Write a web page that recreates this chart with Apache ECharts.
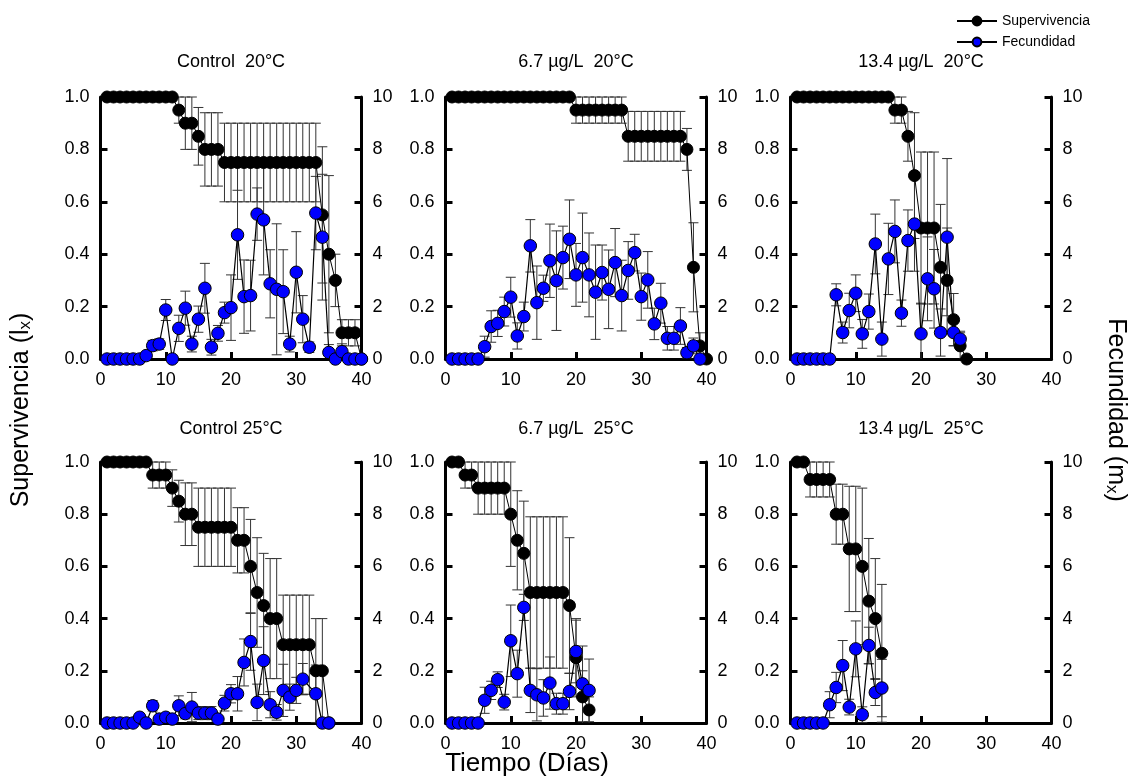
<!DOCTYPE html>
<html><head><meta charset="utf-8">
<script src="https://cdn.jsdelivr.net/npm/echarts@6/dist/echarts.min.js"></script>
<style>html,body{margin:0;padding:0;background:#fff}#c{width:1134px;height:782px}</style>
</head><body><div id="c"></div>
<script>
// ---------- data (day index starts at 1) ----------
const panelTitles = ['Control  20°C', '6.7 µg/L  20°C', '13.4 µg/L  20°C', 'Control 25°C', '6.7 µg/L  25°C', '13.4 µg/L  25°C'];
const xTicks = [0, 10, 20, 30, 40];

const survC20 = [1,1,1,1,1,1,1,1,1,1,1,0.95,0.9,0.9,0.85,0.8,0.8,0.8,0.75,0.75,0.75,0.75,0.75,0.75,0.75,0.75,0.75,0.75,0.75,0.75,0.75,0.75,0.75,0.55,0.4,0.3,0.1,0.1,0.1,0];
const survErrC20 = [0,0,0,0,0,0,0,0,0,0,0,0.05,0.1,0.1,0.11,0.14,0.14,0.14,0.15,0.15,0.15,0.15,0.15,0.15,0.15,0.15,0.15,0.15,0.15,0.15,0.15,0.15,0.15,0.26,0.3,0.1,0.05,0.05,0.05,0];
const fecC20 = [0,0,0,0,0,0,0.13,0.51,0.57,1.87,0,1.17,1.94,0.57,1.52,2.70,0.45,0.98,1.77,1.96,4.74,2.38,2.42,5.53,5.31,2.87,2.66,2.57,0.57,3.31,1.52,0.45,5.57,4.65,0.25,0,0.28,0,0,0];
const fecErrC20 = [0,0,0,0,0,0,0,0.2,0.2,0.4,0,0.5,0.65,0.3,0.5,0.95,0.3,0.3,0.4,1.25,1.7,1.4,1.35,1.0,2.1,1.3,2.5,1.6,0.3,1.55,0.9,0.2,1.4,2.4,0.3,0,0.3,0,0,0];

const surv67_20 = [1,1,1,1,1,1,1,1,1,1,1,1,1,1,1,1,1,1,1,0.95,0.95,0.95,0.95,0.95,0.95,0.95,0.95,0.85,0.85,0.85,0.85,0.85,0.85,0.85,0.85,0.85,0.8,0.35,0.05,0];
const survErr67_20 = [0,0,0,0,0,0,0,0,0,0,0,0,0,0,0,0,0,0,0,0.05,0.05,0.05,0.05,0.05,0.05,0.05,0.05,0.095,0.095,0.095,0.095,0.095,0.095,0.095,0.095,0.095,0.08,0.17,0.05,0];
const fec67_20 = [0,0,0,0,0,0.47,1.24,1.36,1.81,2.36,0.88,1.62,4.32,2.15,2.70,3.75,2.99,3.87,4.57,3.21,3.87,3.21,2.55,3.30,2.66,3.68,2.42,3.38,4.06,2.38,3.02,1.34,2.13,0.79,0.79,1.26,0.24,0.50,0];
const fecErr67_20 = [0,0,0,0,0,0.4,0.6,0.5,0.55,0.76,0.5,0.55,1.0,1.4,0.5,1.4,1.9,1.2,1.5,1.2,1.7,1.6,1.8,1.05,1.5,1.3,1.35,1.1,0.7,0.9,1.08,0.6,0.76,0.45,0.45,0.7,0.2,0.3,0];

const surv134_20 = [1,1,1,1,1,1,1,1,1,1,1,1,1,1,1,0.95,0.95,0.85,0.7,0.5,0.5,0.5,0.35,0.3,0.15,0.05,0];
const survErr134_20 = [0,0,0,0,0,0,0,0,0,0,0,0,0,0,0,0.05,0.05,0.095,0.24,0.29,0.29,0.29,0.24,0.2,0.1,0.05,0];
const fec134_20 = [0,0,0,0,0,0,2.45,1.01,1.85,2.51,0.96,1.81,4.39,0.76,3.82,4.87,1.75,4.52,5.15,0.96,3.06,2.68,1.01,4.65,1.01,0.76];
const fecErr134_20 = [0,0,0,0,0,0,0.42,0.4,0.66,0.7,0.55,0.67,1.14,0.65,1.36,1.2,0.5,1.17,1.8,1.17,1.6,1.5,0.9,3.0,0.5,0.3];

const survC25 = [1,1,1,1,1,1,1,0.95,0.95,0.95,0.9,0.85,0.8,0.8,0.75,0.75,0.75,0.75,0.75,0.75,0.7,0.7,0.6,0.5,0.45,0.4,0.4,0.3,0.3,0.3,0.3,0.3,0.2,0.2,0];
const survErrC25 = [0,0,0,0,0,0,0,0.05,0.05,0.05,0.07,0.08,0.12,0.12,0.15,0.15,0.15,0.15,0.15,0.15,0.125,0.125,0.18,0.21,0.2,0.23,0.23,0.19,0.19,0.19,0.19,0.19,0.2,0.2,0];
const fecC25 = [0,0,0,0,0,0.22,0,0.66,0.15,0.22,0.15,0.66,0.36,0.61,0.38,0.38,0.38,0.15,0.76,1.12,1.12,2.32,3.12,0.79,2.39,0.70,0.41,1.25,0.99,1.25,1.68,null,1.12,0,0];
const fecErrC25 = [0,0,0,0,0,0,0,0.2,0,0,0,0.38,0.2,0.56,0.25,0.25,0.25,0,0.3,0.35,0.66,0.9,1.1,0.7,1.3,0.5,0.3,1.0,0.5,0.5,0.6,null,1.1,0,0];

const surv67_25 = [1,1,0.95,0.95,0.9,0.9,0.9,0.9,0.9,0.8,0.7,0.65,0.5,0.5,0.5,0.5,0.5,0.5,0.45,0.25,0.1,0.05];
const survErr67_25 = [0,0,0.05,0.05,0.1,0.1,0.1,0.1,0.1,0.2,0.19,0.2,0.29,0.29,0.29,0.29,0.29,0.29,0.26,0.15,0.1,0.05];
const fec67_25 = [0,0,0,0,0,0.87,1.25,1.66,0.80,3.15,1.89,4.43,1.25,1.08,0.96,1.53,0.74,0.74,1.21,2.74,1.50,1.25];
const fecErr67_25 = [0,0,0,0,0,0.5,0.35,0.3,0.3,1.37,0.9,0.5,0.85,1.0,0.7,1.0,0.4,0.4,0.7,1.2,1.45,1.2];

const surv134_25 = [1,1,0.933,0.933,0.933,0.933,0.8,0.8,0.667,0.667,0.6,0.467,0.4,0.267];
const survErr134_25 = [0,0,0.067,0.067,0.067,0.067,0.115,0.115,0.24,0.24,0.3,0.24,0.23,0.264];
const fec134_25 = [0,0,0,0,0,0.70,1.36,2.20,0.61,2.84,0.32,2.97,1.17,1.34];
const fecErr134_25 = [0,0,0,0,0,0.5,0.58,0.96,0.3,1.07,0.3,0.7,0.5,1.1];

// ---------- layout ----------
const FONT = "'Liberation Sans', Arial, Helvetica, sans-serif";
const LEFTS = [100.5, 445.5, 790.5];
const TOPS = [97, 462];
const HEIGHTS = [262, 261];
const W = 261;

const panels = [
  [survC20, survErrC20, fecC20, fecErrC20],
  [surv67_20, survErr67_20, fec67_20, fecErr67_20],
  [surv134_20, survErr134_20, fec134_20, fecErr134_20],
  [survC25, survErrC25, fecC25, fecErrC25],
  [surv67_25, survErr67_25, fec67_25, fecErr67_25],
  [surv134_25, survErr134_25, fec134_25, fecErr134_25]
];

function errRender(params, api) {
  const x = api.value(0);
  const lo = Math.max(0, api.value(1));
  const hi = api.value(2);
  const a = api.coord([x, hi]);
  const b = api.coord([x, lo]);
  const hw = 5;
  const st = { stroke: '#333', lineWidth: 1 };
  const ch = [
    { type: 'line', shape: { x1: a[0], y1: a[1], x2: b[0], y2: b[1] }, style: st },
    { type: 'line', shape: { x1: a[0] - hw, y1: a[1], x2: a[0] + hw, y2: a[1] }, style: st }
  ];
  if (api.value(1) > 0) ch.push({ type: 'line', shape: { x1: b[0] - hw, y1: b[1], x2: b[0] + hw, y2: b[1] }, style: st });
  return { type: 'group', children: ch };
}

const axisLine = { show: true, onZero: false, lineStyle: { color: '#000', width: 3 } };
const axisTick = { show: true, inside: true, length: 7, lineStyle: { color: '#000', width: 3 } };
const lbl = { color: '#000', fontSize: 18, fontFamily: FONT };

const grids = [], xAxes = [], yAxes = [], series = [], graphics = [];
panels.forEach((p, i) => {
  const col = i % 3, row = Math.floor(i / 3);
  const [surv, survErr, fec, fecErr] = p;
  grids.push({ left: LEFTS[col], top: TOPS[row], width: W, height: HEIGHTS[row] });
  xAxes.push({ type: 'value', gridIndex: i, min: xTicks[0], max: xTicks[xTicks.length - 1], interval: 10,
    axisLine, axisTick, axisLabel: Object.assign({ margin: 12 }, lbl), splitLine: { show: false } });
  yAxes.push({ type: 'value', gridIndex: i, min: 0, max: 1, interval: 0.2, position: 'left',
    axisLine, axisTick, axisLabel: Object.assign({ margin: 11, formatter: v => v.toFixed(1) }, lbl), splitLine: { show: false } });
  yAxes.push({ type: 'value', gridIndex: i, min: 0, max: 10, interval: 2, position: 'right',
    axisLine, axisTick, axisLabel: Object.assign({ margin: 11 }, lbl), splitLine: { show: false } });
  const yl = 2 * i, yr = 2 * i + 1;
  const sErr = [], fErr = [];
  surv.forEach((v, k) => { if (survErr[k] > 0) sErr.push([k + 1, v - survErr[k], v + survErr[k]]); });
  fec.forEach((v, k) => { if (v != null && fecErr[k] > 0) fErr.push([k + 1, v - fecErr[k], v + fecErr[k]]); });
  series.push({ type: 'custom', xAxisIndex: i, yAxisIndex: yl, renderItem: errRender, data: sErr, z: 1, silent: true, encode: { x: 0, y: [1, 2] } });
  series.push({ type: 'custom', xAxisIndex: i, yAxisIndex: yr, renderItem: errRender, data: fErr, z: 1, silent: true, encode: { x: 0, y: [1, 2] } });
  series.push({ name: 'Supervivencia', type: 'line', xAxisIndex: i, yAxisIndex: yl, z: 3,
    data: surv.map((v, k) => [k + 1, v]), symbol: 'circle', symbolSize: 12,
    itemStyle: { color: '#000', borderColor: '#000', borderWidth: 1 }, lineStyle: { color: '#000', width: 1 } });
  series.push({ name: 'Fecundidad', type: 'line', xAxisIndex: i, yAxisIndex: yr, z: 4,
    data: fec.map((v, k) => [k + 1, v]).filter(d => d[1] != null), symbol: 'circle', symbolSize: 12.5,
    itemStyle: { color: '#0000ff', borderColor: '#000', borderWidth: 1 }, lineStyle: { color: '#000', width: 1.2 } });
  graphics.push({ type: 'text', x: LEFTS[col] + W / 2, y: row === 0 ? 62 : 429,
    style: { text: panelTitles[i], fill: '#000', fontSize: 18, fontFamily: FONT, align: 'center', verticalAlign: 'middle' } });
});

graphics.push({ type: 'text', x: 21, y: 410, rotation: Math.PI / 2,
  style: { text: 'Supervivencia (l{s|x})', fill: '#000', fontSize: 25, fontFamily: FONT, align: 'center', verticalAlign: 'middle',
    rich: { s: { fontSize: 17, fontFamily: FONT, fill: '#000', verticalAlign: 'bottom', lineHeight: 16 } } } });
graphics.push({ type: 'text', x: 1116, y: 410, rotation: -Math.PI / 2,
  style: { text: 'Fecundidad (m{s|x})', fill: '#000', fontSize: 25, fontFamily: FONT, align: 'center', verticalAlign: 'middle',
    rich: { s: { fontSize: 17, fontFamily: FONT, fill: '#000', verticalAlign: 'bottom', lineHeight: 16 } } } });
graphics.push({ type: 'text', x: 527, y: 764,
  style: { text: 'Tiempo (Días)', fill: '#000', fontSize: 26, fontFamily: FONT, align: 'center', verticalAlign: 'middle' } });

const chart = echarts.init(document.getElementById('c'), null, { renderer: 'canvas' });
chart.setOption({
  animation: false,
  backgroundColor: '#fff',
  grid: grids, xAxis: xAxes, yAxis: yAxes, series,
  legend: { data: ['Supervivencia', 'Fecundidad'], orient: 'vertical', left: 951, top: 9, itemWidth: 40, itemHeight: 11, itemGap: 7,
    textStyle: { color: '#000', fontSize: 14, fontFamily: FONT }, selectedMode: false },
  graphic: graphics
});
</script></body></html>
